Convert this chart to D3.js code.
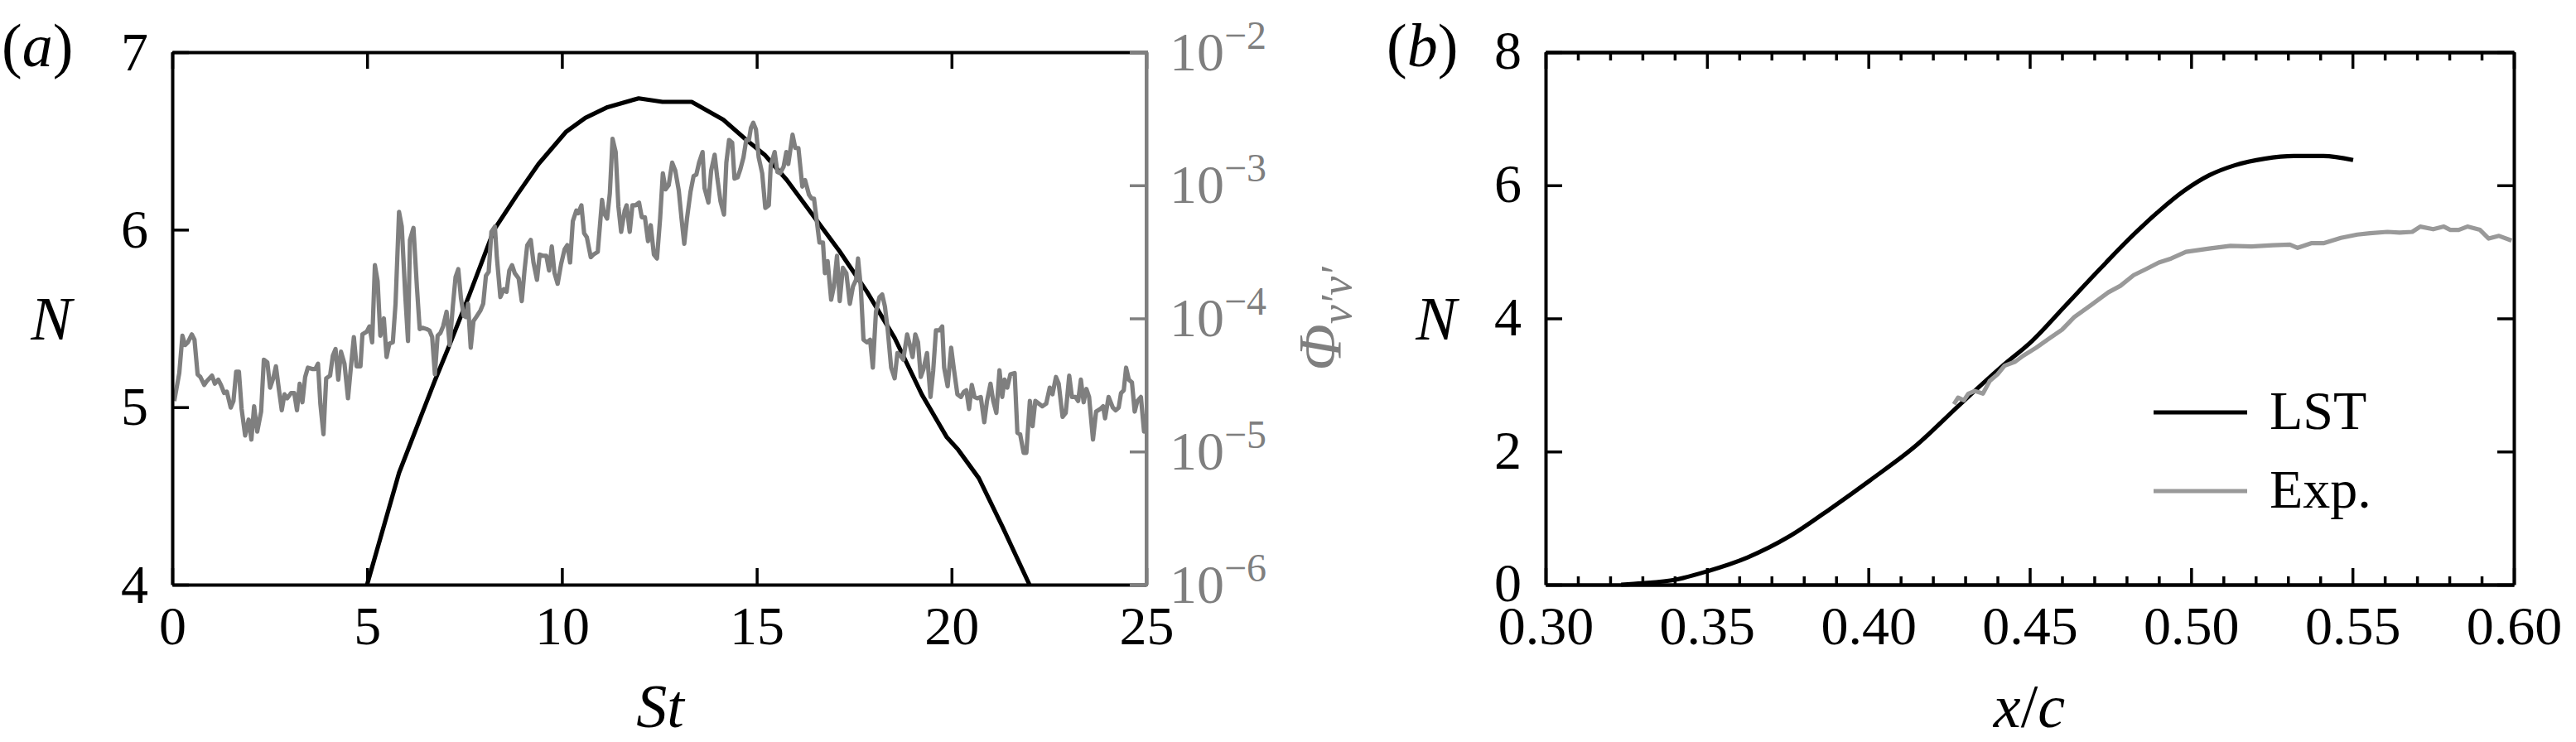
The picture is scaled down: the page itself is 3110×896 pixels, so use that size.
<!DOCTYPE html>
<html>
<head>
<meta charset="utf-8">
<script src="https://cdn.jsdelivr.net/npm/d3@7"></script>
<style>
  body { margin: 0; background: #fff; }
  svg text { font-family: "Liberation Serif", "Times New Roman", serif; }
</style>
</head>
<body>
<svg id="fig" width="3110" height="896"></svg>
<script>
// ---- panel (a): LST N-factor envelope vs Strouhal number
var stLST = [5.0, 5.82, 6.35, 6.74, 7.06, 7.62, 8.26, 8.83, 9.40, 10.10, 10.60, 11.17, 11.97, 12.58,
  13.33, 14.14, 14.71, 15.21, 15.77, 16.48, 17.12, 17.83, 18.54, 19.24, 19.88, 20.17, 20.7, 21.3, 22.0];
var nLSTa = [4.0, 4.63, 4.93, 5.15, 5.32, 5.63, 6.0, 6.19, 6.37, 6.55, 6.63, 6.69, 6.74, 6.72,
  6.72, 6.62, 6.51, 6.42, 6.28, 6.07, 5.88, 5.65, 5.39, 5.07, 4.83, 4.76, 4.60, 4.33, 4.0];

// ---- panel (a): measured spectrum, [St, log10(Phi_v'v')]
var phiSpectrum = [
  [0.05,-4.62],[0.18,-4.41],[0.26,-4.13],[0.33,-4.20],[0.40,-4.18],[0.50,-4.12],[0.57,-4.16],[0.65,-4.42],
  [0.72,-4.44],[0.82,-4.50],[0.89,-4.47],[1.02,-4.43],[1.09,-4.49],[1.18,-4.46],[1.25,-4.50],[1.33,-4.56],
  [1.40,-4.55],[1.50,-4.67],[1.57,-4.62],[1.64,-4.40],[1.71,-4.40],[1.78,-4.68],[1.87,-4.88],[1.96,-4.76],
  [2.03,-4.91],[2.10,-4.66],[2.18,-4.85],[2.28,-4.70],[2.35,-4.31],[2.44,-4.33],[2.51,-4.52],[2.59,-4.45],
  [2.66,-4.36],[2.74,-4.54],[2.81,-4.69],[2.88,-4.57],[2.95,-4.60],[3.05,-4.56],[3.13,-4.56],[3.20,-4.69],
  [3.27,-4.49],[3.34,-4.63],[3.41,-4.44],[3.48,-4.37],[3.59,-4.38],[3.67,-4.38],[3.74,-4.34],[3.80,-4.64],
  [3.88,-4.87],[3.95,-4.45],[4.05,-4.43],[4.12,-4.28],[4.19,-4.23],[4.26,-4.46],[4.33,-4.25],[4.42,-4.34],
  [4.51,-4.60],[4.58,-4.38],[4.66,-4.14],[4.73,-4.36],[4.83,-4.36],[4.88,-4.12],[4.99,-4.10],[5.06,-4.06],
  [5.13,-4.18],[5.20,-3.60],[5.27,-3.72],[5.34,-4.13],[5.43,-4.00],[5.50,-4.29],[5.57,-4.19],[5.66,-4.18],
  [5.73,-3.89],[5.82,-3.20],[5.89,-3.31],[5.98,-3.83],[6.05,-4.17],[6.10,-3.41],[6.19,-3.32],[6.28,-3.77],
  [6.35,-4.08],[6.42,-4.07],[6.53,-4.08],[6.60,-4.09],[6.67,-4.14],[6.74,-4.42],[6.81,-4.13],[6.88,-4.11],
  [6.95,-4.06],[7.04,-3.95],[7.12,-4.20],[7.20,-3.91],[7.27,-3.69],[7.34,-3.63],[7.41,-3.85],[7.48,-3.98],
  [7.54,-3.99],[7.59,-3.89],[7.66,-4.22],[7.73,-4.02],[7.80,-3.99],[7.91,-3.94],[7.98,-3.89],[8.05,-3.68],
  [8.12,-3.65],[8.19,-3.35],[8.28,-3.31],[8.33,-3.54],[8.42,-3.84],[8.51,-3.78],[8.58,-3.80],[8.65,-3.64],
  [8.72,-3.60],[8.79,-3.66],[8.89,-3.70],[8.97,-3.87],[9.04,-3.64],[9.11,-3.45],[9.20,-3.41],[9.27,-3.58],
  [9.36,-3.71],[9.43,-3.52],[9.52,-3.53],[9.60,-3.53],[9.67,-3.64],[9.74,-3.46],[9.81,-3.66],[9.89,-3.74],
  [9.98,-3.59],[10.07,-3.48],[10.14,-3.45],[10.21,-3.58],[10.28,-3.27],[10.37,-3.19],[10.42,-3.21],[10.50,-3.15],
  [10.57,-3.36],[10.64,-3.39],[10.74,-3.54],[10.81,-3.52],[10.92,-3.50],[11.03,-3.11],[11.08,-3.21],[11.16,-3.25],
  [11.23,-3.06],[11.30,-2.65],[11.38,-2.75],[11.45,-3.16],[11.52,-3.35],[11.61,-3.19],[11.66,-3.15],[11.74,-3.35],
  [11.81,-3.15],[11.89,-3.15],[11.98,-3.13],[12.05,-3.24],[12.13,-3.24],[12.21,-3.42],[12.28,-3.30],[12.36,-3.52],
  [12.44,-3.55],[12.52,-3.25],[12.59,-2.91],[12.66,-3.03],[12.74,-3.00],[12.83,-2.83],[12.91,-2.89],[13.00,-3.04],
  [13.07,-3.25],[13.14,-3.44],[13.21,-3.25],[13.30,-3.05],[13.38,-2.93],[13.45,-2.92],[13.52,-2.83],[13.61,-2.75],
  [13.66,-3.02],[13.76,-3.13],[13.83,-2.89],[13.92,-2.77],[13.99,-2.95],[14.07,-3.12],[14.16,-3.22],[14.22,-2.83],
  [14.29,-2.66],[14.37,-2.68],[14.43,-2.95],[14.51,-2.94],[14.58,-2.88],[14.66,-2.79],[14.73,-2.66],[14.80,-2.66],
  [14.85,-2.57],[14.91,-2.53],[14.98,-2.58],[15.05,-2.79],[15.14,-2.91],[15.22,-3.17],[15.31,-3.15],[15.36,-2.85],
  [15.46,-2.75],[15.53,-2.90],[15.60,-2.91],[15.69,-2.86],[15.76,-2.75],[15.81,-2.84],[15.92,-2.62],[15.99,-2.72],
  [16.07,-2.72],[16.17,-3.01],[16.24,-2.96],[16.34,-3.07],[16.41,-3.10],[16.47,-3.10],[16.55,-3.29],[16.61,-3.43],
  [16.70,-3.43],[16.75,-3.66],[16.82,-3.57],[16.91,-3.86],[16.98,-3.76],[17.06,-3.53],[17.13,-3.87],[17.21,-3.62],
  [17.30,-3.66],[17.39,-3.89],[17.47,-3.76],[17.55,-3.71],[17.60,-3.55],[17.67,-3.76],[17.74,-4.16],[17.83,-4.18],
  [17.91,-4.16],[17.98,-4.37],[18.06,-3.95],[18.15,-3.84],[18.22,-3.82],[18.29,-3.91],[18.36,-4.08],[18.45,-4.37],
  [18.54,-4.45],[18.61,-4.26],[18.69,-4.28],[18.76,-4.31],[18.86,-4.12],[18.93,-4.20],[19.00,-4.29],[19.07,-4.12],
  [19.14,-4.18],[19.21,-4.44],[19.28,-4.38],[19.37,-4.26],[19.46,-4.59],[19.53,-4.39],[19.60,-4.09],[19.69,-4.09],
  [19.76,-4.06],[19.81,-4.37],[19.90,-4.51],[19.99,-4.22],[20.06,-4.38],[20.15,-4.57],[20.24,-4.59],[20.32,-4.55],
  [20.38,-4.54],[20.45,-4.68],[20.52,-4.50],[20.59,-4.59],[20.66,-4.60],[20.75,-4.59],[20.84,-4.78],[20.91,-4.62],
  [21.00,-4.49],[21.07,-4.62],[21.15,-4.71],[21.23,-4.39],[21.30,-4.59],[21.36,-4.46],[21.43,-4.52],[21.51,-4.42],
  [21.62,-4.41],[21.69,-4.86],[21.76,-4.87],[21.85,-5.01],[21.92,-5.01],[22.01,-4.62],[22.08,-4.81],[22.15,-4.62],
  [22.24,-4.64],[22.33,-4.66],[22.43,-4.64],[22.52,-4.52],[22.59,-4.57],[22.68,-4.44],[22.75,-4.49],[22.85,-4.74],
  [22.93,-4.71],[23.02,-4.43],[23.09,-4.59],[23.18,-4.59],[23.25,-4.62],[23.32,-4.46],[23.39,-4.63],[23.46,-4.53],
  [23.53,-4.59],[23.63,-4.91],[23.71,-4.70],[23.82,-4.68],[23.89,-4.66],[23.94,-4.75],[24.03,-4.59],[24.14,-4.67],
  [24.21,-4.69],[24.29,-4.67],[24.35,-4.56],[24.42,-4.54],[24.48,-4.37],[24.55,-4.46],[24.63,-4.48],[24.70,-4.70],
  [24.77,-4.62],[24.86,-4.59],[24.94,-4.85],[24.99,-4.72]
];

// ---- panel (b): N-factor vs chordwise position
var xcLST = [0.3234, 0.330, 0.3403, 0.350, 0.3626, 0.3757, 0.3888, 0.4006, 0.415, 0.428, 0.4414, 0.4507,
  0.4612, 0.4717, 0.4822, 0.490, 0.4979, 0.5056, 0.5135, 0.5228, 0.5318, 0.541, 0.5502];
var nLSTb = [0, 0.02, 0.075, 0.2, 0.41, 0.73, 1.16, 1.57, 2.10, 2.69, 3.28, 3.66,
  4.20, 4.74, 5.26, 5.61, 5.92, 6.15, 6.30, 6.40, 6.44, 6.44, 6.38];
var xcExp = [0.4265, 0.4278, 0.4296, 0.431, 0.433, 0.4355, 0.4376, 0.440, 0.4422, 0.4455, 0.448, 0.452,
  0.4558, 0.460, 0.4638, 0.469, 0.4743, 0.4781, 0.4822, 0.486, 0.490, 0.4938, 0.4984, 0.5056, 0.5122,
  0.5187, 0.5253, 0.5306, 0.533, 0.5372, 0.541, 0.5464, 0.5515, 0.5554, 0.5608, 0.5646, 0.5685, 0.571,
  0.575, 0.5783, 0.5803, 0.5829, 0.5856, 0.5895, 0.5922, 0.5954, 0.5993];
var nExp = [2.71, 2.81, 2.77, 2.87, 2.91, 2.87, 3.06, 3.16, 3.29, 3.35, 3.44, 3.56,
  3.69, 3.83, 4.02, 4.20, 4.39, 4.49, 4.65, 4.74, 4.84, 4.90, 5.00, 5.05, 5.09,
  5.08, 5.10, 5.11, 5.06, 5.13, 5.13, 5.21, 5.26, 5.28, 5.30, 5.29, 5.30, 5.38,
  5.34, 5.38, 5.33, 5.33, 5.38, 5.33, 5.20, 5.24, 5.17];

// ---- tick labels
var aStTicks = [0, 5, 10, 15, 20, 25];
var aNTicks = [4, 5, 6, 7];
var aPhiTicks = [1e-6, 1e-5, 1e-4, 1e-3, 1e-2];
var bXcTicks = [0.30, 0.35, 0.40, 0.45, 0.50, 0.55, 0.60];
var bNTicks = [0, 2, 4, 6, 8];

var gray = "#7f7f7f";
var lightGray = "#999999";
var tickFont = 66, labelFont = 74;
var lineW = 5.2;
var plotTop = 63, plotBottom = 706;

var svg = d3.select("#fig");
svg.append("rect").attr("width", 3110).attr("height", 896).attr("fill", "#fff");

function styleAxis(g, color, labels) {
  g.attr("font-size", tickFont).attr("font-family", null).style("color", color);
  g.selectAll(".domain").attr("stroke-width", 4);
  g.selectAll(".tick line").attr("stroke-width", 3.5);
  if (!labels) g.selectAll(".tick text").remove();
  return g;
}

// ================= panel (a) =================
var xa = d3.scaleLinear().domain([0, 25]).range([208, 1384]);
var ya = d3.scaleLinear().domain([4, 7]).range([plotBottom, plotTop]);
var yPhi = d3.scaleLog().domain([1e-6, 1e-2]).range([plotBottom, plotTop]);

svg.append("clipPath").attr("id", "clipA").append("rect")
    .attr("x", 208).attr("y", plotTop).attr("width", 1384 - 208).attr("height", plotBottom - plotTop);

var lineA = d3.line()
    .x(function(d) { return xa(d[0]); })
    .y(function(d) { return ya(d[1]); });

svg.append("path")
    .datum(stLST.map(function(s, i) { return [s, nLSTa[i]]; }))
    .attr("clip-path", "url(#clipA)")
    .attr("fill", "none").attr("stroke", "#000").attr("stroke-width", lineW)
    .attr("stroke-linejoin", "round")
    .attr("d", lineA);

var linePhi = d3.line()
    .x(function(d) { return xa(d[0]); })
    .y(function(d) { return yPhi(Math.pow(10, d[1])); });

svg.append("path")
    .datum(phiSpectrum)
    .attr("clip-path", "url(#clipA)")
    .attr("fill", "none").attr("stroke", gray).attr("stroke-width", lineW)
    .attr("stroke-linejoin", "round")
    .attr("d", linePhi);

styleAxis(svg.append("g").attr("transform", "translate(0," + plotBottom + ")")
    .call(d3.axisBottom(xa).tickValues(aStTicks).tickFormat(d3.format("d"))
      .tickSize(-20).tickSizeOuter(0).tickPadding(25)), "#000", true);
styleAxis(svg.append("g").attr("transform", "translate(0," + plotTop + ")")
    .call(d3.axisTop(xa).tickValues(aStTicks).tickSize(-20).tickSizeOuter(0)), "#000", false);
styleAxis(svg.append("g").attr("transform", "translate(208,0)")
    .call(d3.axisLeft(ya).tickValues(aNTicks).tickFormat(d3.format("d"))
      .tickSize(-20).tickSizeOuter(0).tickPadding(29)), "#000", true);

var rightA = styleAxis(svg.append("g").attr("transform", "translate(1384,0)")
    .call(d3.axisRight(yPhi).tickValues(aPhiTicks).tickSize(-20).tickSizeOuter(0).tickPadding(28)), gray, true);
rightA.selectAll(".tick text").each(function(d) {
  var e = Math.round(Math.log10(d));
  var t = d3.select(this).text(null);
  t.append("tspan").text("10");
  t.append("tspan").attr("font-size", 48).attr("dy", -26).text("\u2212" + (-e));
});
// gray frame corners of the twin axis
svg.append("path")
    .attr("d", "M1366," + plotTop + "H1384V" + plotBottom + "H1366")
    .attr("fill", "none").attr("stroke", gray).attr("stroke-width", 4);

// labels (a)
var labA = svg.append("text").attr("x", 2).attr("y", 80).attr("font-size", labelFont);
labA.append("tspan").text("(");
labA.append("tspan").attr("font-style", "italic").text("a");
labA.append("tspan").text(")");

svg.append("text").attr("x", 62).attr("y", 410).attr("text-anchor", "middle")
    .attr("font-size", labelFont).attr("font-style", "italic").text("N");
svg.append("text").attr("x", 797).attr("y", 878).attr("text-anchor", "middle")
    .attr("font-size", labelFont).attr("font-style", "italic").text("St");

var phiLab = svg.append("text")
    .attr("transform", "translate(1619,385) rotate(-90)")
    .attr("text-anchor", "middle").attr("fill", gray).attr("font-size", labelFont).attr("font-style", "italic");
phiLab.append("tspan").text("\u03A6");
phiLab.append("tspan").attr("font-size", 52).attr("dy", 12).text("v\u2032v\u2032");

// ================= panel (b) =================
var xb = d3.scaleLinear().domain([0.30, 0.60]).range([1866, 3035]);
var yb = d3.scaleLinear().domain([0, 8]).range([plotBottom, plotTop]);
var bMinor = d3.range(31, 60).filter(function(v) { return v % 5 !== 0; }).map(function(v) { return v / 100; });

var lineB = d3.line()
    .x(function(d) { return xb(d[0]); })
    .y(function(d) { return yb(d[1]); })
    .curve(d3.curveMonotoneX);

svg.append("path")
    .datum(xcLST.map(function(x, i) { return [x, nLSTb[i]]; }))
    .attr("fill", "none").attr("stroke", "#000").attr("stroke-width", lineW)
    .attr("d", lineB);

svg.append("path")
    .datum(xcExp.map(function(x, i) { return [x, nExp[i]]; }))
    .attr("fill", "none").attr("stroke", lightGray).attr("stroke-width", lineW)
    .attr("stroke-linejoin", "round")
    .attr("d", lineB.curve(d3.curveLinear));

styleAxis(svg.append("g").attr("transform", "translate(0," + plotBottom + ")")
    .call(d3.axisBottom(xb).tickValues(bXcTicks).tickFormat(d3.format(".2f"))
      .tickSize(-20).tickSizeOuter(0).tickPadding(25)), "#000", true);
styleAxis(svg.append("g").attr("transform", "translate(0," + plotBottom + ")")
    .call(d3.axisBottom(xb).tickValues(bMinor).tickSize(-10).tickSizeOuter(0)), "#000", false);
styleAxis(svg.append("g").attr("transform", "translate(0," + plotTop + ")")
    .call(d3.axisTop(xb).tickValues(bXcTicks).tickSize(-20).tickSizeOuter(0)), "#000", false);
styleAxis(svg.append("g").attr("transform", "translate(0," + plotTop + ")")
    .call(d3.axisTop(xb).tickValues(bMinor).tickSize(-10).tickSizeOuter(0)), "#000", false);
var leftB = styleAxis(svg.append("g").attr("transform", "translate(1866,0)")
    .call(d3.axisLeft(yb).tickValues(bNTicks).tickFormat(d3.format("d"))
      .tickSize(-20).tickSizeOuter(0).tickPadding(29)), "#000", true);
leftB.selectAll(".tick text").attr("dy", "0.3em");
styleAxis(svg.append("g").attr("transform", "translate(3035,0)")
    .call(d3.axisRight(yb).tickValues(bNTicks).tickSize(-20).tickSizeOuter(0)), "#000", false);

var labB = svg.append("text").attr("x", 1674).attr("y", 80).attr("font-size", labelFont);
labB.append("tspan").text("(");
labB.append("tspan").attr("font-style", "italic").text("b");
labB.append("tspan").text(")");

svg.append("text").attr("x", 1734).attr("y", 410).attr("text-anchor", "middle")
    .attr("font-size", labelFont).attr("font-style", "italic").text("N");

var xcLab = svg.append("text").attr("x", 2450).attr("y", 878).attr("text-anchor", "middle")
    .attr("font-size", labelFont);
xcLab.append("tspan").attr("font-style", "italic").text("x");
xcLab.append("tspan").text("/");
xcLab.append("tspan").attr("font-style", "italic").text("c");

// legend
var legend = [{name: "LST", color: "#000", y: 498}, {name: "Exp.", color: lightGray, y: 593}];
var lg = svg.append("g").selectAll("g").data(legend).enter().append("g");
lg.append("line").attr("x1", 2600).attr("x2", 2713)
    .attr("y1", function(d) { return d.y; }).attr("y2", function(d) { return d.y; })
    .attr("stroke", function(d) { return d.color; }).attr("stroke-width", lineW);
lg.append("text").attr("x", 2740).attr("y", function(d) { return d.y + 20; })
    .attr("font-size", tickFont).text(function(d) { return d.name; });
</script>
</body>
</html>
